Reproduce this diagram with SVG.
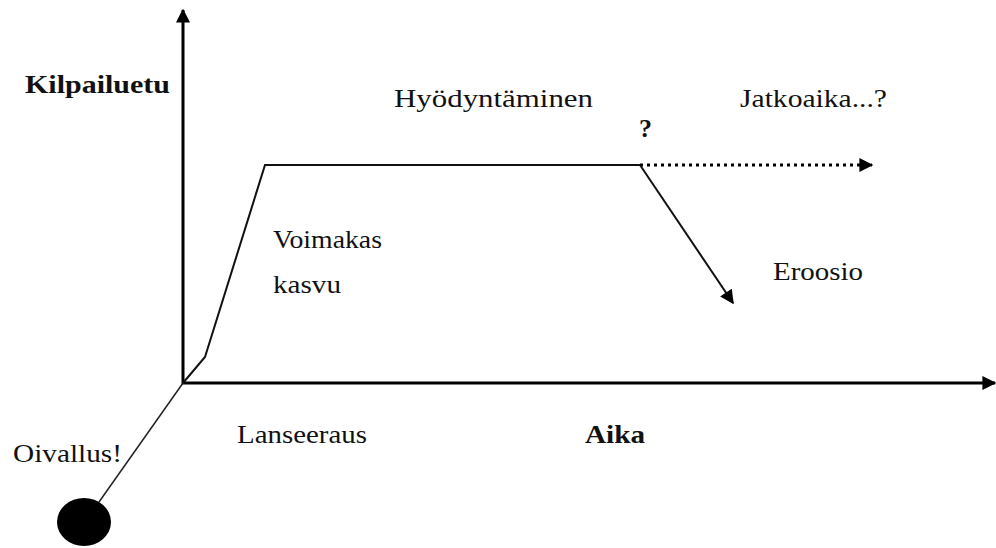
<svg xmlns="http://www.w3.org/2000/svg" width="996" height="548" viewBox="0 0 996 548">
  <defs>
    <style>
      .lbl { font-family: "Times New Roman", "Liberation Serif", "DejaVu Serif", serif; font-size: 26px; fill: #111; }
      .b { font-weight: bold; }
      .axis { stroke: #000; stroke-width: 3; fill: none; }
      .curve { stroke: #111; stroke-width: 2; fill: none; }
    </style>
    <marker id="ahAxis" viewBox="0 0 10 10" refX="9" refY="5" markerWidth="14" markerHeight="14" markerUnits="userSpaceOnUse" orient="auto">
      <path d="M0,0 L10,5 L0,10 z" fill="#000"/>
    </marker>
    <marker id="ahSmall" viewBox="0 0 10 10" refX="9" refY="5" markerWidth="17" markerHeight="14" markerUnits="userSpaceOnUse" orient="auto">
      <path d="M0,0 L10,5 L0,10 z" fill="#000"/>
    </marker>
  </defs>
  <rect width="996" height="548" fill="#fff"/>

  <g id="connectors">
    <!-- axes -->
    <line class="axis" x1="183" y1="384" x2="183" y2="10" marker-end="url(#ahAxis)"/>
    <line class="axis" x1="182" y1="383" x2="995" y2="383" marker-end="url(#ahAxis)"/>
    <!-- life cycle curve -->
    <polyline class="curve" points="183,383 205,357 265,165 640,165"/>
    <!-- continuation (dotted) -->
    <line x1="640" y1="165" x2="872" y2="165" stroke="#000" stroke-width="3" stroke-dasharray="3 4" marker-end="url(#ahSmall)"/>
    <!-- erosion -->
    <line class="curve" x1="640" y1="165" x2="733" y2="303" marker-end="url(#ahSmall)"/>
    <!-- origin line to idea -->
    <line x1="183" y1="383" x2="99" y2="502" stroke="#222" stroke-width="1.5"/>
  </g>

  <g id="idea">
    <ellipse cx="84" cy="522" rx="27" ry="24" fill="#000"/>
  </g>

  <g id="labels">
    <text class="lbl b" x="25" y="93" textLength="145" lengthAdjust="spacingAndGlyphs">Kilpailuetu</text>
    <text class="lbl" x="394" y="107" textLength="199" lengthAdjust="spacingAndGlyphs">Hyödyntäminen</text>
    <text class="lbl" x="740" y="107" textLength="147" lengthAdjust="spacingAndGlyphs">Jatkoaika...?</text>
    <text class="lbl b" x="639" y="137" font-size="31">?</text>
    <text class="lbl" x="273" y="248" textLength="109" lengthAdjust="spacingAndGlyphs">Voimakas</text>
    <text class="lbl" x="273" y="293" textLength="68" lengthAdjust="spacingAndGlyphs">kasvu</text>
    <text class="lbl" x="773" y="280" textLength="90" lengthAdjust="spacingAndGlyphs">Eroosio</text>
    <text class="lbl" x="237" y="443" textLength="130" lengthAdjust="spacingAndGlyphs">Lanseeraus</text>
    <text class="lbl b" x="585" y="443" textLength="60" lengthAdjust="spacingAndGlyphs">Aika</text>
    <text class="lbl" x="13" y="462" textLength="109" lengthAdjust="spacingAndGlyphs">Oivallus!</text>
  </g>
</svg>
